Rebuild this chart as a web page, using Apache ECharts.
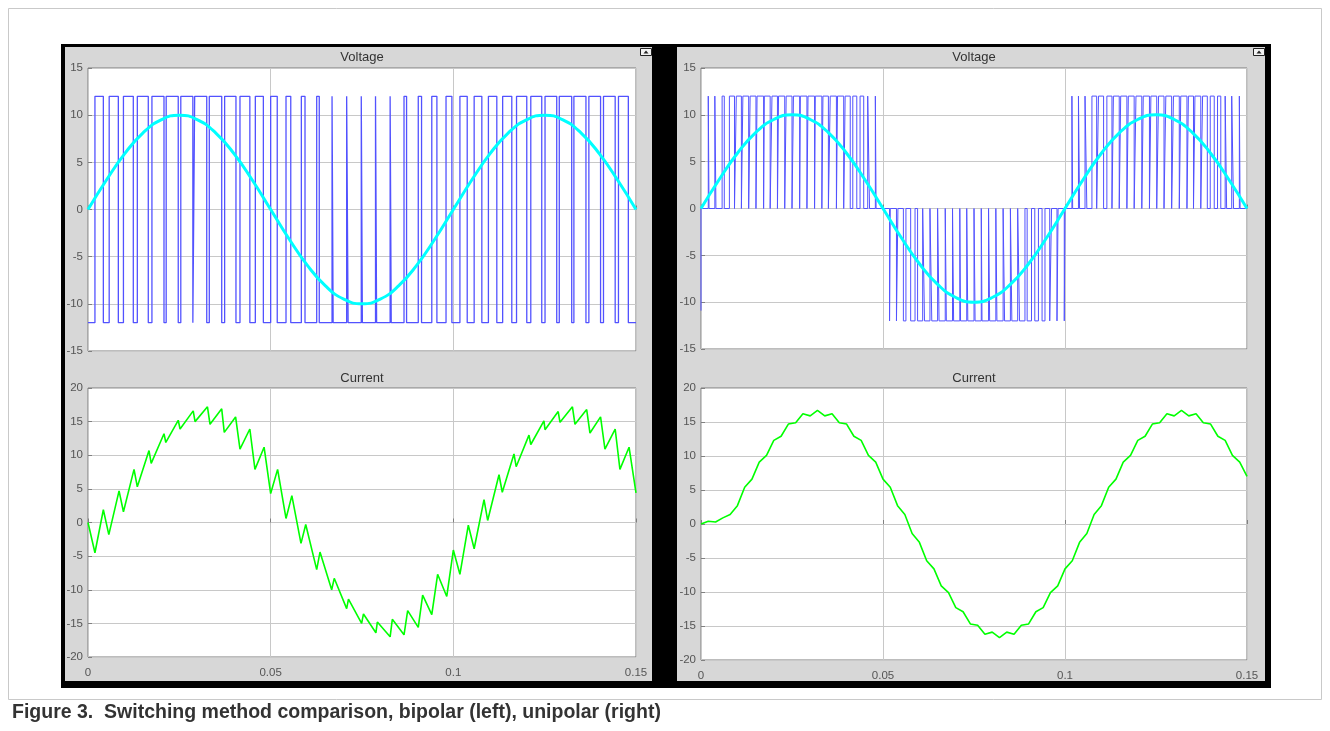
<!DOCTYPE html>
<html>
<head>
<meta charset="utf-8">
<script src="https://cdn.jsdelivr.net/npm/echarts@6/dist/echarts.min.js"></script>
<style>
  html, body { margin: 0; padding: 0; background: #fff; }
  #main { width: 1330px; height: 731px; }
</style>
</head>
<body>
<div id="main"></div>
<script>
// time axis: 0 .. 0.15 s
const tMax = 0.15;

// reference sine (both scopes), sampled every 0.005 s
const sineStep = 0.005;
const refSine = [0, 3.1, 5.9, 8.1, 9.5, 10, 9.5, 8.1, 5.9, 3.1, 0, -3.1, -5.9, -8.1, -9.5, -10,
  -9.5, -8.1, -5.9, -3.1, 0, 3.1, 5.9, 8.1, 9.5, 10, 9.5, 8.1, 5.9, 3.1, 0];

// bipolar output: intervals [on, off] where voltage is +12 (else -12)
const bipolarHigh = [
  0.0019, 0.0042, 0.0058, 0.0083, 0.0097, 0.0124, 0.0135, 0.0165, 0.0175, 0.0208,
  0.0214, 0.0247, 0.0254, 0.0287, 0.0292, 0.0325, 0.0332, 0.0366, 0.0374, 0.0405,
  0.0416, 0.0443, 0.0458, 0.0480, 0.0500, 0.0518, 0.0542, 0.0555, 0.0584, 0.0594,
  0.0626, 0.0633, 0.0668, 0.0671, 0.0708, 0.0712, 0.0748, 0.0751, 0.0787, 0.0790,
  0.0827, 0.0830, 0.0865, 0.0872, 0.0904, 0.0913, 0.0941, 0.0955, 0.0980, 0.0996,
  0.1018, 0.1038, 0.1057, 0.1078, 0.1096, 0.1119, 0.1135, 0.1160, 0.1173, 0.1201,
  0.1212, 0.1242, 0.1251, 0.1283, 0.1290, 0.1324, 0.1330, 0.1363, 0.1371, 0.1403,
  0.1411, 0.1443, 0.1452, 0.1479
];

// unipolar output: pulses to +12 (first half), -12 (second half), +12 (third)
const unipolarPos1 = [
  0.0020, 0.0022, 0.0038, 0.0041, 0.0058, 0.0064, 0.0078, 0.0092, 0.0097, 0.0111,
  0.0115, 0.0131, 0.0135, 0.0151, 0.0154, 0.0172, 0.0174, 0.0190, 0.0195, 0.0210,
  0.0213, 0.0230, 0.0234, 0.0250, 0.0254, 0.0271, 0.0273, 0.0291, 0.0294, 0.0312,
  0.0314, 0.0332, 0.0335, 0.0350, 0.0355, 0.0372, 0.0375, 0.0392, 0.0396, 0.0410,
  0.0417, 0.0428, 0.0437, 0.0447, 0.0458, 0.0463, 0.0479, 0.0481
];
const unipolarNeg = [
  0.0518, 0.0520, 0.0537, 0.0541, 0.0556, 0.0563, 0.0576, 0.0588, 0.0595, 0.0609,
  0.0614, 0.0629, 0.0634, 0.0650, 0.0654, 0.0671, 0.0674, 0.0691, 0.0694, 0.0711,
  0.0713, 0.0730, 0.0733, 0.0750, 0.0753, 0.0770, 0.0772, 0.0790, 0.0793, 0.0810,
  0.0813, 0.0830, 0.0834, 0.0850, 0.0854, 0.0870, 0.0875, 0.0890, 0.0896, 0.0908,
  0.0917, 0.0927, 0.0937, 0.0945, 0.0958, 0.0963, 0.0978, 0.0981, 0.0998, 0.1000
];
const unipolarPos2 = [
  0.1019, 0.1021, 0.1037, 0.1040, 0.1055, 0.1060, 0.1074, 0.1087, 0.1092, 0.1106,
  0.1115, 0.1129, 0.1133, 0.1149, 0.1153, 0.1170, 0.1174, 0.1190, 0.1195, 0.1211,
  0.1215, 0.1232, 0.1236, 0.1252, 0.1257, 0.1272, 0.1277, 0.1293, 0.1298, 0.1314,
  0.1318, 0.1335, 0.1339, 0.1353, 0.1357, 0.1373, 0.1378, 0.1391, 0.1399, 0.1410,
  0.1419, 0.1428, 0.1440, 0.1444, 0.1458, 0.1463, 0.1479, 0.1481
];

// bipolar current: corner points (time, amps)
const bipolarCurT = [0, 0.0019, 0.0042, 0.0057, 0.0085, 0.0097, 0.0126, 0.0135, 0.0167, 0.0173,
  0.0208, 0.0213, 0.0247, 0.0252, 0.0288, 0.0293, 0.0327, 0.0334, 0.0366, 0.0373,
  0.0404, 0.0416, 0.0443, 0.0457, 0.0482, 0.0500, 0.0519, 0.0542, 0.0558, 0.0583,
  0.0596, 0.0626, 0.0635, 0.0667, 0.0674, 0.0708, 0.0713, 0.0749, 0.0754, 0.0788,
  0.0792, 0.0827, 0.0833, 0.0865, 0.0875, 0.0904, 0.0916, 0.0941, 0.0957, 0.0982,
  0.1000, 0.1018, 0.1041, 0.1057, 0.1084, 0.1094, 0.1125, 0.1134, 0.1166, 0.1172,
  0.1207, 0.1212, 0.1248, 0.1251, 0.1287, 0.1292, 0.1326, 0.1333, 0.1365, 0.1374,
  0.1403, 0.1415, 0.1443, 0.1456, 0.1481, 0.1500];
const bipolarCurV = [0, -4.5, 1.9, -1.8, 4.7, 1.6, 7.9, 5.3, 10.7, 8.8,
  13.2, 11.9, 15.2, 13.9, 16.6, 15.0, 17.2, 14.6, 16.9, 13.4,
  15.7, 10.9, 13.9, 7.9, 11.2, 4.3, 7.9, 0.6, 4.0, -3.1,
  -0.3, -7.0, -4.4, -10.0, -8.3, -12.8, -11.4, -15.0, -13.6, -16.4,
  -14.8, -17.0, -14.4, -16.7, -13.1, -15.6, -10.8, -13.7, -7.7, -11.0,
  -4.1, -7.7, -0.4, -3.9, 3.4, 0.3, 7.1, 4.5, 10.2, 8.3,
  13.0, 11.6, 15.1, 13.8, 16.5, 14.9, 17.2, 14.6, 16.8, 13.3,
  15.7, 10.9, 13.9, 7.9, 11.2, 4.4];

// unipolar current, sampled every 0.002 s
const curStep = 0.002;
const unipolarCur = [0, 0.4, 0.3, 0.9, 1.4, 2.7, 5.4, 6.6, 9.1, 10.1,
  12.3, 12.9, 14.7, 14.9, 16.2, 15.9, 16.7, 15.9, 16.2, 14.9,
  14.7, 12.9, 12.3, 10.1, 9.1, 6.6, 5.4, 2.7, 1.4, -1.4,
  -2.7, -5.4, -6.6, -9.1, -10.1, -12.3, -12.9, -14.7, -14.9, -16.2,
  -15.9, -16.7, -15.9, -16.2, -14.9, -14.7, -12.9, -12.3, -10.1, -9.1,
  -6.6, -5.4, -2.7, -1.4, 1.4, 2.7, 5.4, 6.6, 9.1, 10.1,
  12.3, 12.9, 14.7, 14.9, 16.2, 15.9, 16.7, 15.9, 16.2, 14.9,
  14.7, 12.9, 12.3, 10.1, 9.1, 7.0];

// ---- build series data ----
function steps(edges, hi, lo) {
  const pts = [];
  for (let i = 0; i < edges.length; i += 2) {
    pts.push([edges[i], lo], [edges[i], hi], [edges[i + 1], hi], [edges[i + 1], lo]);
  }
  return pts;
}
const sineData = refSine.map((v, i) => [i * sineStep, v]);
const bipolarV = [[0, -12]].concat(steps(bipolarHigh, 12, -12), [[tMax, -12]]);
const unipolarV = [[0, -10.9], [0, 0]].concat(
  steps(unipolarPos1, 12, 0), steps(unipolarNeg, -12, 0), steps(unipolarPos2, 12, 0), [[tMax, 0]]);
const bipolarI = bipolarCurT.map((t, i) => [t, bipolarCurV[i]]);
const unipolarI = unipolarCur.map((v, i) => [i * curStep, v]);

const echart = echarts.init(document.getElementById('main'));

const font = 'Liberation Sans, Arial, sans-serif';
const grids = [
  { left: 88, top: 68, width: 548, height: 283 },
  { left: 88, top: 388, width: 548, height: 269 },
  { left: 701, top: 68, width: 546, height: 281 },
  { left: 701, top: 388, width: 546, height: 272 }
];

function xAxis(gi, labels) {
  return {
    type: 'value', gridIndex: gi, min: 0, max: tMax, interval: 0.05,
    axisLine: { show: false },
    axisTick: { show: true, inside: true, length: 4, lineStyle: { color: '#808080' } },
    axisLabel: {
      show: labels, color: '#555', fontSize: 11.5, fontFamily: font, margin: 10,
      formatter: v => String(+v.toFixed(2))
    },
    splitLine: { show: true, lineStyle: { color: '#c8c8c8', width: 1 } }
  };
}
function yAxis(gi, lim) {
  return {
    type: 'value', gridIndex: gi, min: -lim, max: lim, interval: 5,
    axisLine: { show: false },
    axisTick: { show: true, inside: true, length: 4, lineStyle: { color: '#808080' } },
    axisLabel: { color: '#555', fontSize: 11.5, fontFamily: font, margin: 5 },
    splitLine: { show: true, lineStyle: { color: '#c8c8c8', width: 1 } }
  };
}

function label(text, x, y) {
  return {
    type: 'text', z: 5, x: x, y: y,
    style: { text: text, font: '13px ' + font, fill: '#333', textAlign: 'center', textVerticalAlign: 'middle' }
  };
}
function icon(x, y) {
  return [
    { type: 'rect', z: 5, shape: { x: x, y: y, width: 11, height: 7 },
      style: { fill: '#f2f2f2', stroke: '#222', lineWidth: 1 } },
    { type: 'polygon', z: 6, shape: { points: [[x + 3, y + 5], [x + 5.5, y + 2], [x + 8, y + 5]] },
      style: { fill: '#222' } }
  ];
}

option = {
  animation: false,
  backgroundColor: '#fff',
  textStyle: { fontFamily: font },
  graphic: {
    elements: [
      { type: 'rect', z: -20, shape: { x: 8.5, y: 8.5, width: 1313, height: 691 },
        style: { fill: '#fff', stroke: '#c9c9c9', lineWidth: 1 } },
      { type: 'rect', z: -19, shape: { x: 61, y: 44, width: 1210, height: 644 }, style: { fill: '#000' } },
      { type: 'rect', z: -18, shape: { x: 65, y: 47, width: 587, height: 634 }, style: { fill: '#d7d7d7' } },
      { type: 'rect', z: -18, shape: { x: 677, y: 47, width: 588, height: 634 }, style: { fill: '#d7d7d7' } },
      label('Voltage', 362, 57),
      label('Current', 362, 378),
      label('Voltage', 974, 57),
      label('Current', 974, 378),
      ...icon(640.5, 48.5),
      ...icon(1253.5, 48.5),
      { type: 'text', z: 5, x: 12, y: 713,
        style: { text: 'Figure 3.  Switching method comparison, bipolar (left), unipolar (right)',
          font: 'bold 19.5px ' + font, fill: '#333', textVerticalAlign: 'middle' } }
    ]
  },
  grid: grids.map(g => Object.assign({ show: true, backgroundColor: '#fff', borderColor: '#7a7a7a', borderWidth: 1 }, g)),
  xAxis: [xAxis(0, false), xAxis(1, true), xAxis(2, false), xAxis(3, true)],
  yAxis: [yAxis(0, 15), yAxis(1, 20), yAxis(2, 15), yAxis(3, 20)],
  series: [
    { type: 'line', xAxisIndex: 0, yAxisIndex: 0, data: bipolarV, showSymbol: false,
      lineStyle: { color: '#5252ff', width: 1.3 } },
    { type: 'line', xAxisIndex: 0, yAxisIndex: 0, data: sineData, showSymbol: false, smooth: true,
      lineStyle: { color: '#00ffff', width: 3 } },
    { type: 'line', xAxisIndex: 1, yAxisIndex: 1, data: bipolarI, showSymbol: false,
      lineStyle: { color: '#00ff00', width: 1.6 } },
    { type: 'line', xAxisIndex: 2, yAxisIndex: 2, data: unipolarV, showSymbol: false,
      lineStyle: { color: '#5252ff', width: 1 } },
    { type: 'line', xAxisIndex: 2, yAxisIndex: 2, data: sineData, showSymbol: false, smooth: true,
      lineStyle: { color: '#00ffff', width: 3 } },
    { type: 'line', xAxisIndex: 3, yAxisIndex: 3, data: unipolarI, showSymbol: false,
      lineStyle: { color: '#00ff00', width: 1.6 } }
  ]
};
echart.setOption(option);
</script>
</body>
</html>
